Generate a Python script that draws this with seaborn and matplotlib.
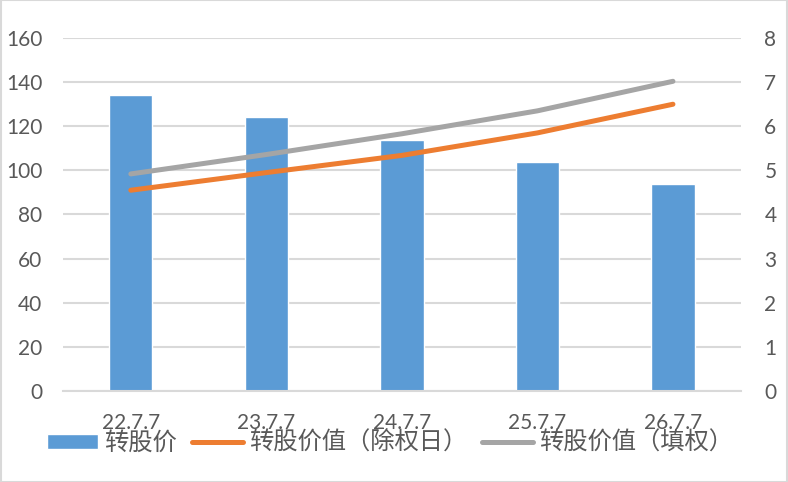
import seaborn as sns
from matplotlib import pyplot as plt
from matplotlib.patches import Patch
from matplotlib.lines import Line2D
import numpy as np
import pandas as pd

sns.set_style("white")
plt.rcParams['font.family'] = ['Lato', 'Noto Sans CJK SC', 'DejaVu Sans']

# values
dates = ['22.7.7', '23.7.7', '24.7.7', '25.7.7', '26.7.7']
price = [134, 124, 114, 104, 94]                   # 转股价 (left axis)
value_ex = [4.55, 4.95, 5.34, 5.85, 6.50]          # 转股价值（除权日） (right axis)
value_fill = [4.92, 5.36, 5.83, 6.35, 7.02]        # 转股价值（填权） (right axis)

names = ['转股价', '转股价值（除权日）', '转股价值（填权）']
colors = ['#5B9BD5', '#ED7D31', '#A5A5A5']
grid_c = '#D9D9D9'
text_c = '#595959'

df = pd.DataFrame({'date': dates, 'price': price, 'ex': value_ex, 'fill': value_fill})
df['pos'] = np.arange(len(df))

fig = plt.figure(figsize=(7.88, 4.82), dpi=100)
ax = fig.add_axes([0.080, 0.189, 0.860, 0.732])

sns.barplot(data=df, x='date', y='price', color=colors[0], width=0.32,
            saturation=1, ax=ax, zorder=2)
ax.set_ylim(0, 160)
ax.set_yticks(range(0, 161, 20))
ax.set_xlim(-0.5, len(dates) - 0.5)
ax.grid(axis='y', color=grid_c, linewidth=1.5, zorder=0)
ax.set_axisbelow(True)
for s in ['top', 'left', 'right']:
    ax.spines[s].set_visible(False)
ax.spines['bottom'].set_color(grid_c)
ax.spines['bottom'].set_linewidth(1.5)
ax.set_xlabel('')
ax.set_ylabel('')
ax.tick_params(axis='y', length=0, pad=15, labelsize=15, labelcolor=text_c)
ax.tick_params(axis='x', length=0, pad=16, labelsize=15, labelcolor=text_c)

ax2 = ax.twinx()
sns.lineplot(data=df, x='pos', y='ex', color=colors[1], linewidth=3.6,
             solid_capstyle='round', ax=ax2)
sns.lineplot(data=df, x='pos', y='fill', color=colors[2], linewidth=3.6,
             solid_capstyle='round', ax=ax2)
ax2.set_ylim(0, 8)
ax2.set_yticks(range(0, 9))
ax2.set_xlim(-0.5, len(dates) - 0.5)
for s in ['top', 'left', 'right', 'bottom']:
    ax2.spines[s].set_visible(False)
ax2.set_ylabel('')
ax2.set_xlabel('')
ax2.tick_params(axis='y', length=0, pad=17, labelsize=15, labelcolor=text_c)

handles = [Patch(facecolor=colors[0]),
           Line2D([], [], color=colors[1], linewidth=3.6, solid_capstyle='round'),
           Line2D([], [], color=colors[2], linewidth=3.6, solid_capstyle='round')]
fig.legend(handles, names, loc='center', bbox_to_anchor=(0.495, 0.081), ncol=3,
           frameon=False, handlelength=2.1, handleheight=0.55,
           handletextpad=0.25, columnspacing=0.6, labelcolor=text_c,
           prop={'family': ['Noto Sans CJK SC', 'DejaVu Sans'], 'size': 17.5})

fig.patches.append(plt.Rectangle((0.001, 0.001), 0.998, 0.998, transform=fig.transFigure,
                                 fill=False, edgecolor=grid_c, linewidth=1.5))

fig.savefig('out.png', dpi=100, facecolor='white')
